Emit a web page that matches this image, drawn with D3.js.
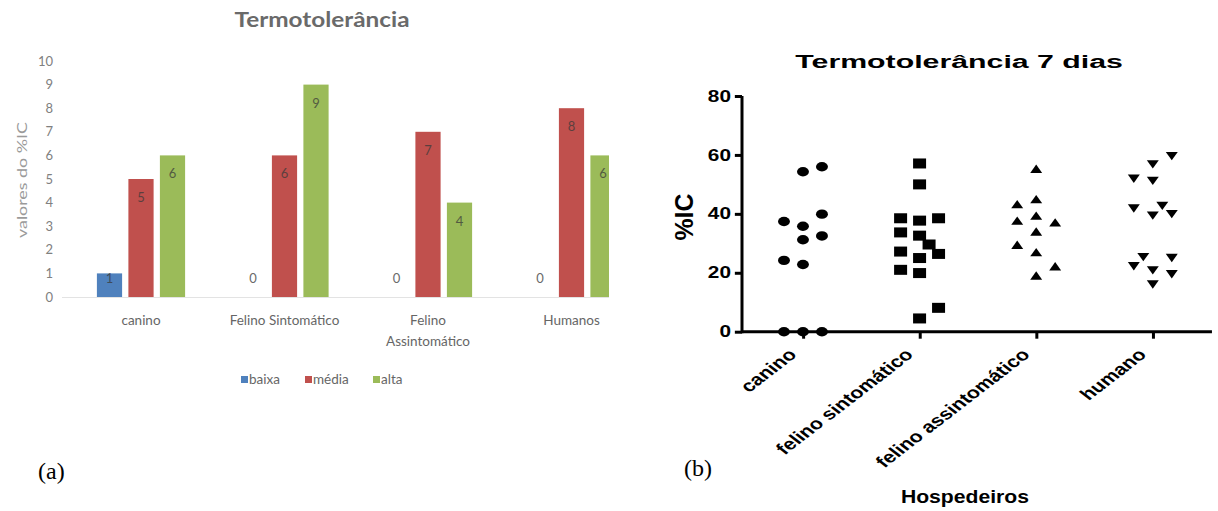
<!DOCTYPE html>
<html>
<head>
<meta charset="utf-8">
<script src="https://cdn.jsdelivr.net/npm/d3@7"></script>
<style>
  body { margin: 0; background: #fff; }
  svg { display: block; }
</style>
</head>
<body>
<script>
// (a) bar chart data
const catsA = ['canino', 'Felino Sintomático', 'Felino Assintomático', 'Humanos'];
const catLinesA = [['canino'], ['Felino Sintomático'], ['Felino', 'Assintomático'], ['Humanos']];
const seriesA = ['baixa', 'média', 'alta'];
const baixa = [1, 0, 0, 0];
const media = [5, 6, 7, 8];
const alta = [6, 9, 4, 6];
const yTicksA = [0, 1, 2, 3, 4, 5, 6, 7, 8, 9, 10];

// (b) scatter data: [value, jitter slot]
const hosts = ['canino', 'felino sintomático', 'felino assintomático', 'humano'];
const yTicksB = [0, 20, 40, 60, 80];
const canino = [[37.4,-1],[24.2,-1],[0,-1],[54.3,0],[35.8,0],[31.2,0],[22.8,0],[0,0],[56.0,1],[39.9,1],[32.5,1],[0,1]];
const felSint = [[38.5,-1],[33.7,-1],[27.2,-1],[21.0,-1],[57.1,0],[50.0,0],[37.7,0],[32.6,0],[25.0,0],[19.9,0],[4.5,0],[29.6,0.5],[38.5,1],[26.4,1],[8.1,1]];
const felAssint = [[43.3,-1],[37.7,-1],[29.5,-1],[55.3,0],[45.0,0],[39.4,0],[34.0,0],[27.0,0],[19.1,0],[37.1,1],[22.2,1]];
const humano = [[51.9,-1],[41.8,-1],[22.2,-1],[25.3,-0.5],[56.8,0],[51.2,0],[39.4,0],[20.8,0],[16.0,0],[42.7,0.5],[59.6,1],[39.9,1],[25.0,1],[19.5,1]];

const W = 1218, H = 511;
const svg = d3.select('body').append('svg').attr('width', W).attr('height', H);

//---------------- (a) ----------------
const colorsA = ['#4f81bd', '#c0504d', '#9bbb59'];
const valsA = [baixa, media, alta];
const fontA = 'Lato, "Open Sans", sans-serif';

const gA = svg.append('g');
svg.append('clipPath').attr('id', 'clipA').append('rect').attr('x', 0).attr('y', 0).attr('width', 609).attr('height', H);

const xA = d3.scaleBand().domain(catsA).range([69.25, 643.25]);
const xSub = d3.scaleBand().domain(seriesA).range([-44.1, 44.1]).paddingInner(0.2);
const yA = d3.scaleLinear().domain([0, 10]).range([297, 61]);

gA.append('text').text('Termotolerância')
  .attr('x', 322).attr('y', 27).attr('text-anchor', 'middle')
  .attr('textLength', 175).attr('lengthAdjust', 'spacingAndGlyphs')
  .style('font-family', fontA).style('font-weight', 'bold').style('font-size', '20px').style('fill', '#6a6a6a');

// y tick labels (no axis line)
const yAxA = gA.append('g').attr('transform', 'translate(60,0)')
  .call(d3.axisLeft(yA).tickValues(yTicksA).tickSize(0).tickPadding(7));
yAxA.select('.domain').remove();
yAxA.selectAll('text').style('font-family', fontA).style('font-size', '13px').style('fill', '#808080');

gA.append('text').text('valores do %IC')
  .attr('transform', 'translate(27,180) rotate(-90)').attr('text-anchor', 'middle')
  .attr('textLength', 116).attr('lengthAdjust', 'spacingAndGlyphs')
  .style('font-family', fontA).style('font-size', '14px').style('fill', '#9a9a9a');

// baseline
gA.append('line').attr('x1', 62).attr('x2', 609).attr('y1', yA(0) + 0.5).attr('y2', yA(0) + 0.5)
  .style('stroke', '#e3e3e3').style('stroke-width', 1);

const barsG = gA.append('g').attr('clip-path', 'url(#clipA)');
seriesA.forEach((s, si) => {
  const rows = catsA.map((c, ci) => ({ c, v: valsA[si][ci] }));
  barsG.selectAll('rect.s' + si).data(rows).enter().append('rect')
    .attr('class', 's' + si)
    .attr('x', d => xA(d.c) + xA.bandwidth() / 2 + xSub(s))
    .attr('width', xSub.bandwidth())
    .attr('y', d => yA(d.v))
    .attr('height', d => yA(0) - yA(d.v))
    .style('fill', colorsA[si]);
  barsG.selectAll('text.s' + si).data(rows).enter().append('text')
    .attr('class', 's' + si)
    .attr('x', d => xA(d.c) + xA.bandwidth() / 2 + xSub(s) + xSub.bandwidth() / 2)
    .attr('y', d => Math.min(yA(d.v) + 23, 283))
    .attr('text-anchor', 'middle')
    .text(d => d.v)
    .style('font-family', fontA).style('font-size', '13px')
    .style('fill', d => d.v === 0 ? '#6a6a6a' : '#3a3a3a')
    .style('opacity', d => d.v === 0 ? 1 : 0.75);
});

// category labels
catsA.forEach((c, ci) => {
  const t = gA.append('text').attr('text-anchor', 'middle')
    .style('font-family', fontA).style('font-size', '13.5px').style('fill', '#666');
  catLinesA[ci].forEach((ln, li) => {
    t.append('tspan').attr('x', xA(c) + xA.bandwidth() / 2).attr('y', 325 + li * 21).text(ln);
  });
});

// legend
const legA = gA.append('g').attr('transform', 'translate(241,384)');
const legOff = [0, 64, 132];
seriesA.forEach((s, si) => {
  legA.append('rect').attr('x', legOff[si]).attr('y', -8).attr('width', 7).attr('height', 7).style('fill', colorsA[si]);
  legA.append('text').attr('x', legOff[si] + 8).attr('y', 0).text(s)
    .style('font-family', fontA).style('font-size', '13.5px').style('fill', '#666');
});

svg.append('text').text('(a)').attr('x', 38).attr('y', 479)
  .style('font-family', '"Liberation Serif", "Times New Roman", serif').style('font-size', '24px').style('fill', '#000');
svg.append('text').text('(b)').attr('x', 684).attr('y', 476)
  .style('font-family', '"Liberation Serif", "Times New Roman", serif').style('font-size', '24px').style('fill', '#000');

//---------------- (b) ----------------
const SX = 1.3;
const fontB = '"Liberation Sans", Arial, sans-serif';
const gB = svg.append('g').attr('transform', `translate(742,0) scale(${SX},1)`);

const xB = d3.scalePoint().domain(hosts).range([46.9, 316]);
const yB = d3.scaleLinear().domain([0, 80]).range([331.7, 96]);
const jit = d3.scaleLinear().domain([-1, 1]).range([-14.6, 14.6]);

gB.append('text').text('Termotolerância 7 dias')
  .attr('x', 167).attr('y', 68).attr('text-anchor', 'middle')
  .attr('textLength', 252).attr('lengthAdjust', 'spacingAndGlyphs')
  .style('font-family', fontB).style('font-weight', 'bold').style('font-size', '19px');

const yAxB = gB.append('g').call(d3.axisLeft(yB).tickValues(yTicksB).tickSize(5.5).tickPadding(3));
const xAxB = gB.append('g').attr('transform', `translate(0,${yB(0)})`)
  .call(d3.axisBottom(xB).tickSize(7).tickFormat(''));
[yAxB, xAxB].forEach(a => {
  a.select('.domain').remove();
  a.selectAll('line').style('stroke', '#000').style('stroke-width', 3).attr('vector-effect', 'non-scaling-stroke');
});
yAxB.selectAll('text').style('font-family', fontB).style('font-weight', 'bold').style('font-size', '16px').style('fill', '#000');

gB.append('line').attr('x1', 0).attr('x2', 0).attr('y1', yB(80)).attr('y2', yB(0) + 1.5)
  .style('stroke', '#000').style('stroke-width', 3).attr('vector-effect', 'non-scaling-stroke');
gB.append('line').attr('x1', 0).attr('x2', 361.5).attr('y1', yB(0)).attr('y2', yB(0))
  .style('stroke', '#000').style('stroke-width', 3).attr('vector-effect', 'non-scaling-stroke');

// rotated host labels
gB.selectAll('text.host').data(hosts).enter().append('text')
  .attr('class', 'host')
  .attr('transform', d => `translate(${xB(d) - 4},${yB(0) + 24}) rotate(-45)`)
  .attr('text-anchor', 'end')
  .text(d => d)
  .style('font-family', fontB).style('font-weight', 'bold').style('font-size', '16.5px');

gB.append('text').text('%IC')
  .attr('transform', `translate(-38,217) rotate(-90)`).attr('text-anchor', 'middle')
  .attr('textLength', 47).attr('lengthAdjust', 'spacingAndGlyphs')
  .style('font-family', fontB).style('font-weight', 'bold').style('font-size', '20px');

gB.append('text').text('Hospedeiros')
  .attr('x', 171.5).attr('y', 503).attr('text-anchor', 'middle')
  .attr('textLength', 98.5).attr('lengthAdjust', 'spacingAndGlyphs')
  .style('font-family', fontB).style('font-weight', 'bold').style('font-size', '18px');

// markers
const groups = [
  { host: hosts[0], pts: canino, shape: 'circle' },
  { host: hosts[1], pts: felSint, shape: 'square' },
  { host: hosts[2], pts: felAssint, shape: 'up' },
  { host: hosts[3], pts: humano, shape: 'down' }
];
const marks = gB.append('g');
groups.forEach(g => {
  g.pts.forEach(p => {
    const cx = xB(g.host) + jit(p[1]);
    const cy = yB(p[0]);
    if (g.shape === 'circle') {
      marks.append('ellipse').attr('cx', cx).attr('cy', cy).attr('rx', 4.6).attr('ry', 4.7).style('fill', '#000');
    } else if (g.shape === 'square') {
      marks.append('rect').attr('x', cx - 5).attr('y', cy - 5).attr('width', 10).attr('height', 10).style('fill', '#000');
    } else if (g.shape === 'up') {
      marks.append('path').attr('d', `M${cx - 4.6},${cy + 4.2}L${cx + 4.6},${cy + 4.2}L${cx},${cy - 4.2}Z`).style('fill', '#000');
    } else {
      marks.append('path').attr('d', `M${cx - 4.6},${cy - 4.2}L${cx + 4.6},${cy - 4.2}L${cx},${cy + 4.2}Z`).style('fill', '#000');
    }
  });
});
</script>
</body>
</html>
